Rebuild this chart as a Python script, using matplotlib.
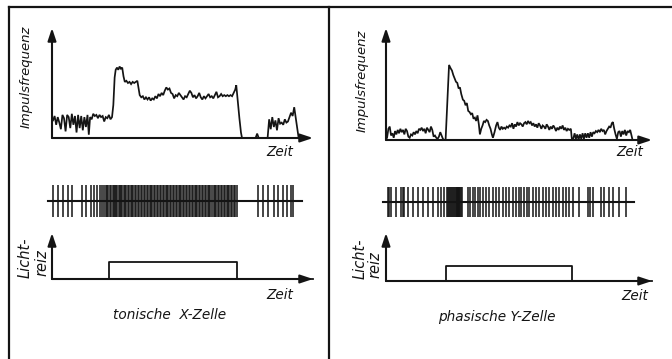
import matplotlib
matplotlib.use("Agg")
import matplotlib.pyplot as plt
from matplotlib.lines import Line2D

W, H = 672, 359
INK = "#141414"

# ---------------- data (time in arbitrary units 0..100) ----------------
# tonic X cell: impulse frequency
x_rate_t = [0.4, 1.0, 1.6, 2.2, 2.8, 3.4, 4.0, 4.6, 5.2, 5.8, 6.4, 7.0, 7.6, 8.2, 8.8, 9.4,
            10.0, 10.6, 11.2, 11.8, 12.4, 13.0, 13.6, 14.1, 14.6, 15.2, 15.8, 16.4, 17.0,
            17.6, 18.2, 18.8, 19.4, 20.0, 20.6, 21.2, 21.8, 22.4, 23.0, 23.5, 24.0, 24.4,
            24.9, 25.4, 25.9, 26.4, 26.9, 27.4, 27.9, 28.5, 29.1, 29.7, 30.3, 30.9, 31.5,
            32.1, 32.7, 33.2, 33.6, 34.2, 34.8, 35.4, 36.0, 36.6, 37.2, 37.8, 38.4, 39.0,
            39.6, 40.2, 40.8, 41.4, 42.0, 42.6, 43.2, 43.8, 44.4, 45.0, 45.6, 46.2, 46.8,
            47.4, 48.0, 48.6, 49.2, 49.8, 50.4, 51.0, 51.6, 52.2, 52.8, 53.4, 54.0, 54.6,
            55.2, 55.8, 56.4, 57.0, 57.6, 58.2, 58.8, 59.4, 60.0, 60.6, 61.2, 61.8, 62.4,
            63.0, 63.6, 64.2, 64.8, 65.4, 66.0, 66.6, 67.2, 67.8, 68.4, 69.0, 69.6, 70.2,
            70.6, 71.2, 71.8, 72.4, 72.8, 78.0, 78.6, 79.2, 82.6, 83.2, 83.8, 84.4, 85.0,
            85.6, 86.2, 86.8, 87.4, 88.0, 88.6, 89.2, 89.8, 90.4, 91.0, 91.6, 92.2, 92.8,
            93.6, 94.5]
x_rate = [16, 20, 12, 19, 14, 8, 21, 18, 6, 21, 19, 9, 22, 12, 20, 5,
          21, 9, 20, 7, 19, 10, 21, 3, 19, 17, 22, 20, 21,
          18, 21, 19, 20, 15, 19, 18, 21, 17, 19, 30, 55, 62,
          64, 62, 65, 63, 64, 56, 51, 52, 50, 51, 49, 51, 50,
          51, 52, 45, 39, 37, 38, 35, 37, 35, 37, 34, 36, 35,
          38, 36, 40, 38, 41, 39, 43, 46, 44, 45, 41, 40, 36,
          39, 38, 41, 39, 37, 35, 38, 37, 40, 43, 41, 37, 39,
          36, 38, 41, 37, 35, 38, 36, 38, 40, 37, 38, 36, 39,
          42, 37, 38, 40, 38, 39, 38, 39, 38, 39, 38, 41, 44,
          48, 33, 18, 5, 0, 0, 4, 0, 0, 17, 8, 19, 10,
          16, 7, 18, 13, 14, 12, 17, 14, 15, 19, 23, 20, 28,
          15, 0]

# phasic Y cell: impulse frequency
y_rate_t = [0.4, 0.9, 1.4, 1.9, 2.4, 2.9, 3.4, 3.9, 4.4, 4.9, 5.4, 5.9, 6.4, 6.9, 7.4, 7.9,
            8.4, 8.9, 9.4, 9.9, 10.4, 10.9, 11.4, 11.9, 12.4, 12.9, 13.4, 13.9, 14.4, 14.9,
            15.4, 15.9, 16.4, 16.9, 17.4, 17.9, 18.4, 18.9, 19.4, 19.9, 20.4, 20.9, 21.4,
            21.9, 22.4, 23.7, 24.3, 24.8, 25.3, 25.8, 26.3, 26.8, 27.3, 27.8, 28.3, 28.9,
            29.4, 29.9, 30.4, 30.9, 31.4, 31.9, 32.4, 32.9, 33.4, 33.9, 34.4, 34.9, 35.3,
            35.8, 36.3, 36.8, 37.3, 37.8, 38.3, 38.8, 39.3, 39.8, 40.2, 40.8, 41.4, 41.9,
            42.4, 42.9, 43.4, 43.9, 44.4, 44.9, 45.4, 45.9, 46.4, 46.9, 47.4, 47.9, 48.4,
            48.9, 49.4, 49.9, 50.4, 50.9, 51.4, 51.9, 52.4, 52.9, 53.4, 53.9, 54.4, 54.9,
            55.4, 55.9, 56.4, 56.9, 57.4, 57.9, 58.4, 58.9, 59.4, 59.9, 60.4, 60.9, 61.4,
            61.9, 62.4, 62.9, 63.4, 63.9, 64.4, 64.9, 65.4, 65.9, 66.4, 66.9, 67.4, 67.9,
            68.4, 68.9, 69.5, 69.9, 70.4, 70.9, 71.4, 71.9, 72.4, 72.9, 73.4, 73.9, 74.4,
            74.9, 75.4, 75.9, 76.4, 76.9, 77.4, 77.9, 78.4, 78.9, 79.4, 79.9, 80.4, 80.9,
            81.4, 81.9, 82.4, 82.9, 83.4, 83.9, 84.4, 84.9, 85.3, 85.8, 86.3, 86.8, 87.3,
            87.8, 88.3, 88.8, 89.3, 89.8, 90.3, 90.8, 91.3, 91.8, 92.3, 92.6]
y_rate = [2, 10, 12, 4, 6, 2, 8, 5, 9, 6, 10, 7, 9, 5, 10, 8,
          3, 2, 5, 4, 7, 5, 8, 6, 10, 9, 11, 8, 10, 6,
          11, 9, 7, 12, 9, 3, 4, 2, 1, 3, 7, 4, 1,
          0, 0, 67, 64, 62, 58, 55, 52, 51, 46, 47, 41, 36,
          35, 31, 33, 26, 25, 23, 24, 19, 20, 17, 22, 14, 5,
          10, 13, 17, 16, 18, 17, 13, 10, 5, 2, 7, 13, 16,
          11, 9, 12, 10, 11, 10, 12, 11, 13, 12, 15, 10, 14,
          12, 16, 13, 15, 14, 12, 15, 16, 14, 17, 15, 16, 13,
          15, 12, 14, 11, 15, 13, 10, 13, 12, 10, 14, 12, 9,
          12, 10, 13, 11, 8, 11, 9, 12, 10, 13, 9, 11, 8,
          10, 9, 10, 0, 1, 6, 1, 5, 0, 5, 1, 6, 1,
          6, 2, 6, 2, 7, 3, 7, 6, 8, 7, 9, 7, 10,
          8, 9, 5, 8, 10, 12, 11, 15, 16, 10, 5, 1, 7,
          8, 3, 8, 5, 9, 4, 8, 7, 9, 4, 1]

# spike trains
x_spikes = [0.5, 2.4, 4.3, 6.3, 7.5, 11.4, 12.9, 14.8, 16.1, 17.4, 18.4, 19.0, 20.0,
            20.5, 21.1, 21.6, 22.2, 22.7, 23.2, 23.7, 24.1, 24.6, 25.0, 25.5, 25.9, 26.4,
            26.9, 27.4, 27.9, 28.5, 29.0, 29.6, 30.1, 30.7, 31.2, 31.8, 32.3, 32.9, 33.5,
            34.0, 34.6, 35.1, 35.7, 36.3, 36.8, 37.4, 37.9, 38.5, 39.1, 39.6, 40.2, 40.7,
            41.3, 41.8, 42.4, 42.9, 43.5, 44.0, 44.6, 45.1, 45.7, 46.3, 46.8, 47.4, 47.9,
            48.5, 49.1, 49.6, 50.2, 50.7, 51.3, 51.8, 52.4, 52.9, 53.5, 54.1, 54.6, 55.2,
            55.7, 56.3, 56.8, 57.4, 58.0, 58.5, 59.1, 59.6, 60.2, 60.7, 61.3, 61.9, 62.4,
            63.0, 63.5, 64.1, 64.6, 65.2, 65.8, 66.3, 66.9, 67.4, 68.0, 68.5, 69.1, 69.6,
            70.2, 70.7,
            79.0, 81.0, 82.9, 85.1, 86.7, 88.4, 89.9, 91.5, 92.5]
y_spikes = [0.6, 1.2, 1.9, 3.8, 5.6, 6.3, 6.9, 8.2, 10.0, 11.9, 13.8, 15.7, 17.6, 19.4,
            20.7, 21.9,
            22.9, 23.3, 23.7, 24.1, 24.5, 24.9, 25.3, 25.7, 26.1,
            26.4, 26.6, 26.8, 27.0, 27.2, 27.4, 27.6, 27.8, 28.1, 28.5,
            30.7, 31.7, 32.6, 33.6, 34.5, 35.5, 36.3, 37.6, 38.8, 40.1, 41.4, 42.6, 43.9,
            45.1, 46.4, 47.6, 48.9, 49.9, 50.8, 51.8, 52.9, 53.9, 55.1, 56.4, 57.6, 58.9,
            60.2, 61.4, 62.7, 63.9, 65.2, 66.4, 67.6, 68.9, 70.2,
            72.4, 75.8, 76.7, 77.7, 80.8, 81.8, 83.9, 85.2, 87.7, 90.2]

# light stimulus (step: on / off)
x_stim_t = [0, 21.8, 71.0, 100]
x_stim = [0, 0.37, 0, 0]
y_stim_t = [0, 22.6, 70.0, 100]
y_stim = [0, 0.31, 0, 0]

titles = ["tonische  X-Zelle", "phasische Y-Zelle"]
ylabel_top = "Impulsfrequenz"
ylabel_bottom = ["Licht-", "reiz"]
xlabel = "Zeit"

# ---------------- drawing ----------------
fig = plt.figure(figsize=(W / 100, H / 100), dpi=100)
fig.patch.set_facecolor("white")

def box(x0, y0, x1, y1):
    return [x0 / W, 1 - y1 / H, (x1 - x0) / W, (y1 - y0) / H]

def bare(ax):
    ax.set_axis_off()
    ax.patch.set_alpha(0)

arrow_kw = dict(arrowstyle="-|>,head_length=0.75,head_width=0.25", color=INK,
                lw=1.5, shrinkA=0, shrinkB=0, mutation_scale=10)

def axes_arrows(ax, ytop):
    ax.annotate("", xy=(100, 0), xytext=(0, 0), arrowprops=arrow_kw, annotation_clip=False)
    ax.annotate("", xy=(0, ytop), xytext=(0, 0), arrowprops=arrow_kw, annotation_clip=False)

font = dict(family="DejaVu Sans", style="italic", color=INK)

panels = [
    dict(x0=52, x1=313, rate_y=(28, 138), spk_y=(185, 217), stim_y=(233, 279),
         rt=x_rate_t, rv=x_rate, spikes=x_spikes, line=(-1.5, 95.8),
         st=x_stim_t, sv=x_stim, title=titles[0], tpos=(170, 315),
         ipos=(26, 77), zeit1=(280, 152), zeit2=(280, 295),
         licht=(25, 258), reiz=(42, 263)),
    dict(x0=386, x1=652, rate_y=(28, 140), spk_y=(187, 217), stim_y=(233, 281),
         rt=y_rate_t, rv=y_rate, spikes=y_spikes, line=(-1.1, 93.2),
         st=y_stim_t, sv=y_stim, title=titles[1], tpos=(497, 317),
         ipos=(362, 81), zeit1=(630, 152), zeit2=(635, 296),
         licht=(360, 259), reiz=(375, 265)),
]

for p in panels:
    # impulse frequency
    ax = fig.add_axes(box(p["x0"], p["rate_y"][0], p["x1"], p["rate_y"][1]))
    bare(ax)
    ax.set_xlim(0, 100)
    ax.set_ylim(0, 100)
    ax.plot(p["rt"], p["rv"], color=INK, lw=1.25, clip_on=False, solid_joinstyle="miter")
    axes_arrows(ax, 100)

    # spike train
    ax2 = fig.add_axes(box(p["x0"], p["spk_y"][0], p["x1"], p["spk_y"][1]))
    bare(ax2)
    ax2.set_xlim(0, 100)
    ax2.set_ylim(-1, 1)
    ax2.vlines(p["spikes"], -1, 1, color=INK, lw=1.1)
    ax2.plot(p["line"], [0, 0], color=INK, lw=1.5, clip_on=False)

    # light stimulus
    ax3 = fig.add_axes(box(p["x0"], p["stim_y"][0], p["x1"], p["stim_y"][1]))
    bare(ax3)
    ax3.set_xlim(0, 100)
    ax3.set_ylim(0, 1)
    ax3.step(p["st"], p["sv"], where="post", color=INK, lw=1.3, clip_on=False)
    axes_arrows(ax3, 1)

    # texts
    fig.text(p["ipos"][0] / W, 1 - p["ipos"][1] / H, ylabel_top, rotation=90,
             ha="center", va="center", fontsize=9.5, **font)
    fig.text(p["zeit1"][0] / W, 1 - p["zeit1"][1] / H, xlabel,
             ha="center", va="center", fontsize=9.8, **font)
    fig.text(p["zeit2"][0] / W, 1 - p["zeit2"][1] / H, xlabel,
             ha="center", va="center", fontsize=9.8, **font)
    fig.text(p["licht"][0] / W, 1 - p["licht"][1] / H, ylabel_bottom[0], rotation=90,
             ha="center", va="center", fontsize=10.5, **font)
    fig.text(p["reiz"][0] / W, 1 - p["reiz"][1] / H, ylabel_bottom[1], rotation=90,
             ha="center", va="center", fontsize=10.5, **font)
    fig.text(p["tpos"][0] / W, 1 - p["tpos"][1] / H, p["title"],
             ha="center", va="center", fontsize=9.8, **font)

# frame lines of the scanned figure
fig.add_artist(Line2D([9 / W, 9 / W], [0, 1 - 7 / H], color=INK, lw=1.6))
fig.add_artist(Line2D([9 / W, 1], [1 - 7 / H, 1 - 7 / H], color=INK, lw=1.6))
fig.add_artist(Line2D([329 / W, 329 / W], [0, 1 - 7 / H], color=INK, lw=1.6))

fig.savefig("out.png", dpi=100, facecolor="white")
